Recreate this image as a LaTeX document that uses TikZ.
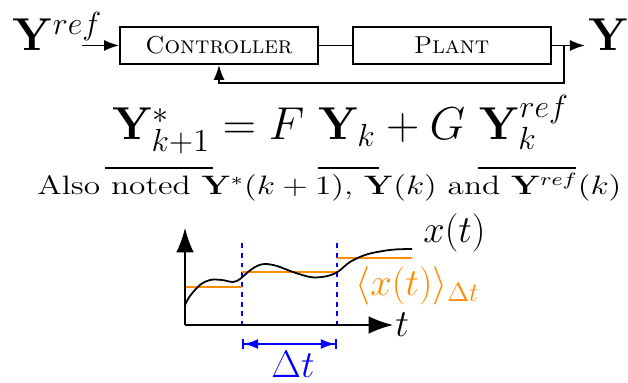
\documentclass[tikz,border=0pt]{standalone}
\usepackage{tikz}
\usepackage{graphicx}
\usetikzlibrary{positioning,arrows.meta}
\usepackage{xcolor}
\definecolor{meanorange}{RGB}{255,140,0}
\DeclareMathSizes{20}{20}{15.5}{12}

\begin{document}
\begin{tikzpicture}[
    x=0.45pt, y=-0.45pt,
    lbl/.style={inner sep=0pt},
    block/.style={draw, thick, minimum width=89.1pt, minimum height=16.65pt, inner sep=0pt,
        font=\fontsize{11}{13}\selectfont},
    arrow/.style={-{Latex[length=6.8pt, width=5pt]}, thick},
    axis/.style={-{Latex[length=11pt, width=8pt]}, thick},
    slot/.style={blue, thick, dash pattern=on 2.2pt off 2.2pt},
    mean/.style={meanorange, thick},
    span/.style={blue, thick, {Bar[width=4.5pt]Latex[length=6.5pt, width=4.5pt]}-{Latex[length=6.5pt, width=4.5pt]Bar[width=4.5pt]}}
]
    \useasboundingbox (0,0) rectangle (628,383);

    % Loop: controller and plant
    \node[block] (ctrl) at (219,45.5) {\textsc{Controller}};
    \node[block, right=14.85pt of ctrl] (plant) {\textsc{Plant}};
    \node[lbl, anchor=base west, font=\huge] (yref) at (12,51) {$\mathbf{Y}^{ref}$};
    \node[lbl, anchor=base west, font=\huge] (yout) at (588,51) {$\mathbf{Y}$};
    \coordinate (in) at (82,45.5);
    \coordinate (out) at (585,45.5);
    \coordinate (branch) at (564,45.5);
    \coordinate (fb) at (564,83);

    \draw[arrow] (in) -- (ctrl.west);
    \draw[thick] (ctrl.east) -- (plant.west);
    \draw[arrow] (plant.east) -- (out);
    \draw[arrow] (branch) -- (fb) -| (ctrl.south);

    % Discrete model
    \node[lbl, anchor=base west, font=\huge] (eq) at (112,140)
        {$\mathbf{Y}^*_{k+1} = F\ \mathbf{Y}_k + G\ \mathbf{Y}^{ref}_k$};
    \draw[thick] (105,168) -- (213,168);
    \draw[thick] (318,168) -- (379,168);
    \draw[thick] (478,168) -- (576,168);
    \node[lbl, anchor=base west, font=\large] (note) at (37,195)
        {\scalebox{1.25}[1]{Also noted $\mathbf{Y}^*(k+1)$, $\mathbf{Y}(k)$ and $\mathbf{Y}^{ref}(k)$}};

    % Averaging over a time step
    \coordinate (o) at (185,325);
    \coordinate (yend) at (185,228);
    \coordinate (xend) at (393,325);
    \coordinate (t1) at (242,243);
    \coordinate (t2) at (337,243);

    \draw[slot] (t1) -- (t1 |- o);
    \draw[slot] (t2) -- (t2 |- o);
    \draw[mean] (185,287) -- (242,287);
    \draw[mean] (242,272) -- (337,272);
    \draw[mean] (337,258) -- (412,258);
    \draw[thick] plot[smooth, tension=0.6] coordinates {(185,305) (190,296) (200,285) (210,280)
        (222,280) (233,282) (240,279) (248,272) (257,266) (265,264) (277,266) (293,272)
        (310,277) (322,277) (331,275) (339,271) (350,262) (365,255) (380,251.5) (395,249.5) (412,249)};
    \draw[axis] (o) -- (yend);
    \draw[axis] (o) -- (xend);
    \draw[span] (t1 |- 0,344) -- (t2 |- 0,344);

    \node[lbl, anchor=base west, font=\LARGE] (xlab) at (423,243) {$x(t)$};
    \node[lbl, anchor=base west, font=\LARGE] (tlab) at (395,337) {$t$};
    \node[lbl, anchor=base west, font=\LARGE, text=meanorange] (meanlab) at (355,296)
        {$\langle x(t) \rangle_{\Delta t}$};
    \node[lbl, anchor=base, font=\LARGE, text=blue] (dtlab) at (293,378) {$\Delta t$};
\end{tikzpicture}
\end{document}
